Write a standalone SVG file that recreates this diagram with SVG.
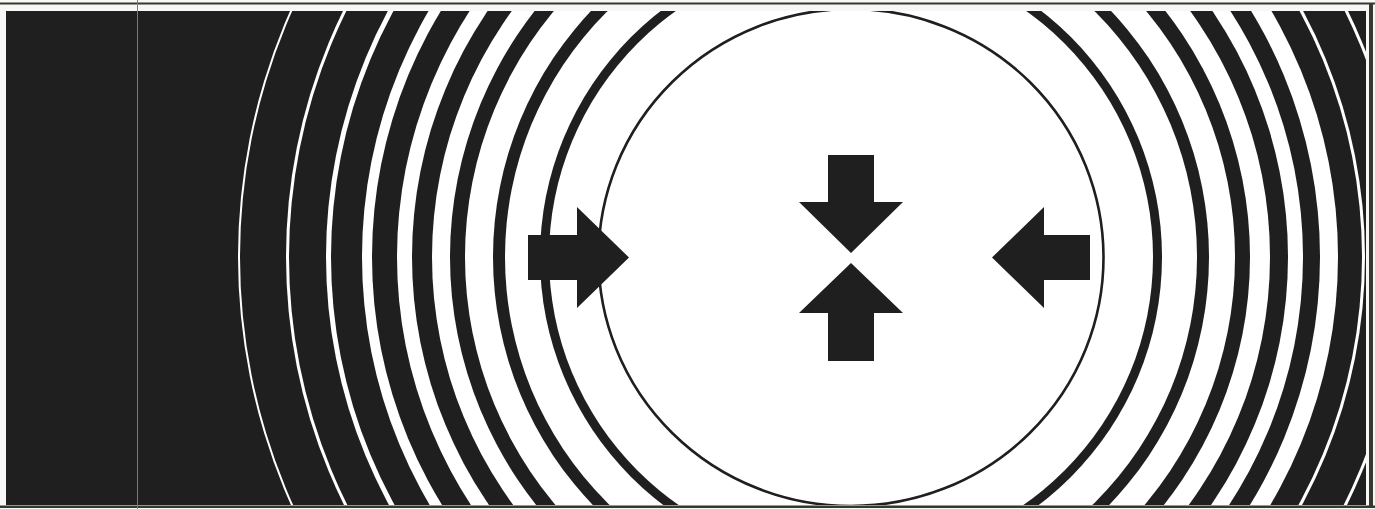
<svg xmlns="http://www.w3.org/2000/svg" width="1375" height="509" viewBox="0 0 1375 509">
  <style>
    .k { fill: #1f1f1f; }
    .w { fill: #ffffff; }
    .frame { fill: #38382f; }
  </style>
  <defs>
    <clipPath id="panel">
      <rect x="6" y="11" width="1360" height="494"/>
    </clipPath>
  </defs>
  <rect x="0" y="0" width="1375" height="509" fill="#f7f7f5"/>
  <g id="rings" clip-path="url(#panel)">
    <rect class="k" x="0" y="0" width="1375" height="509"/>
    <circle class="w" cx="845.5" cy="257" r="607.5"/>
    <circle class="k" cx="845.5" cy="257" r="605.5"/>
    <circle class="w" cx="845.5" cy="257" r="559.5"/>
    <circle class="k" cx="845.5" cy="257" r="556.5"/>
    <circle class="w" cx="845.5" cy="257" r="519.5"/>
    <circle class="k" cx="846.5" cy="257" r="515.5"/>
    <circle class="w" cx="850" cy="257" r="488"/>
    <circle class="k" cx="846" cy="257" r="474"/>
    <circle class="w" cx="850" cy="257" r="453"/>
    <circle class="k" cx="850" cy="257" r="438"/>
    <circle class="w" cx="851" cy="257" r="419"/>
    <circle class="k" cx="850" cy="257" r="400"/>
    <circle class="w" cx="850" cy="257" r="385"/>
    <circle class="k" cx="851" cy="257" r="358"/>
    <circle class="w" cx="851" cy="257" r="346"/>
    <circle class="k" cx="851" cy="257" r="311"/>
    <circle class="w" cx="851" cy="257" r="302"/>
  </g>
  <g id="inner-circle" clip-path="url(#panel)">
    <ellipse cx="851" cy="257.5" rx="252.5" ry="248.5" fill="none" stroke="#1f1f1f" stroke-width="2.6"/>
  </g>
  <g id="arrow-left">
    <polygon class="k" points="528,235 577,235 577,207 629,257.5 577,308 577,280 528,280"/>
  </g>
  <g id="arrow-right">
    <polygon class="k" points="1090,235 1044,235 1044,207 992,257.5 1044,308 1044,280 1090,280"/>
  </g>
  <g id="arrow-down">
    <polygon class="k" points="828,155 874,155 874,202 903,202 851,253 799,202 828,202"/>
  </g>
  <g id="arrow-up">
    <polygon class="k" points="851,263 903,313 874,313 874,361 828,361 828,313 799,313"/>
  </g>
  <g id="frame">
    <rect class="frame" x="0" y="2.5" width="1375" height="2"/>
    <rect class="frame" x="1369" y="3" width="4" height="505"/>
    <rect class="frame" x="0" y="505.5" width="1375" height="2.5"/>
    <line x1="137.5" y1="0" x2="137.5" y2="509" stroke="#6f8f35" stroke-width="1"/>
  </g>
  <g id="connectors"/>
</svg>
